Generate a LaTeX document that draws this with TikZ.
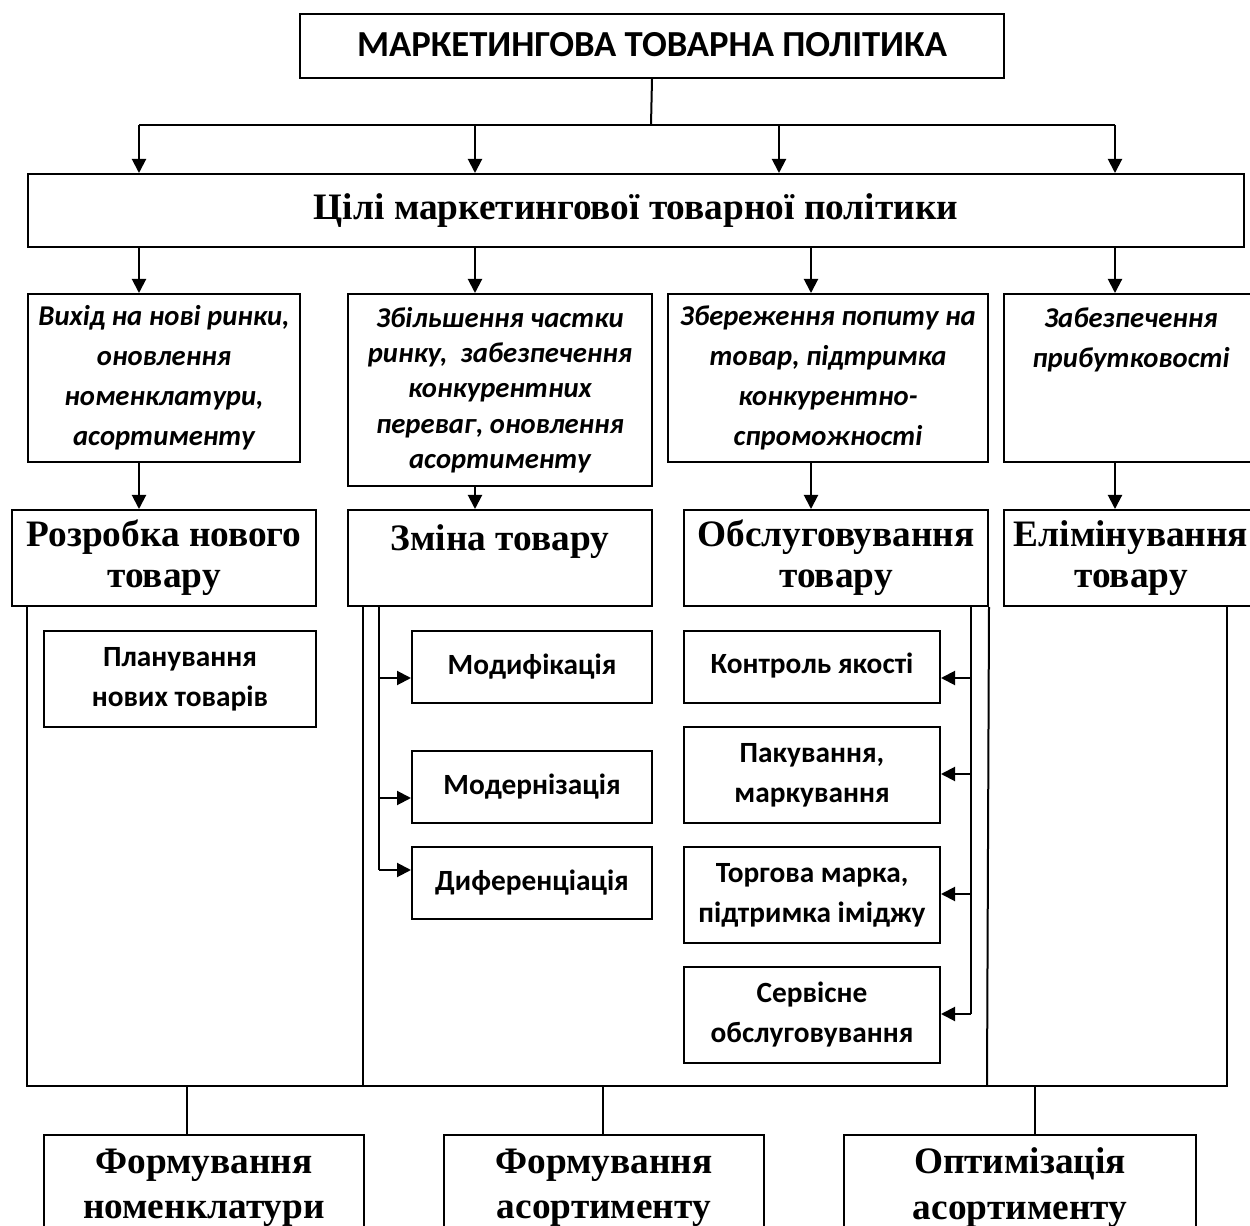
\documentclass[tikz,border=0pt]{standalone}
\usepackage{fontspec}
\setmainfont{Liberation Serif}
\newfontfamily\calibri{Carlito}
\usetikzlibrary{arrows.meta}
\newdimen\pxu \pxu=0.75pt

\tikzset{every picture/.style={line width=1.5pt}}
\tikzset{
  blk/.style={draw, line width=1.5pt, anchor=north west, inner sep=0pt, align=center},
  ttl/.style={font=\calibri\bfseries\fontsize{27.5}{32}\selectfont},
  head/.style={font=\bfseries\fontsize{28}{31}\selectfont},
  goal/.style={font=\calibri\bfseries\itshape\fontsize{21.5}{30}\selectfont},
  item/.style={font=\calibri\bfseries\fontsize{22}{30}\selectfont},
  arr/.style={-{Triangle[length=10.5pt,width=10.5pt]}},
}

\begin{document}
\begin{tikzpicture}[x=0.75pt,y=0.75pt,yscale=-1,xscale=1]
\useasboundingbox (0,0) rectangle (1250,1226);

% Text Node
\node[blk,ttl,minimum width=704\pxu,minimum height=64\pxu] (mtp) at (299,13) {\raisebox{4\pxu}{МАРКЕТИНГОВА ТОВАРНА ПОЛІТИКА}};
% Text Node
\node[blk,font=\bfseries\fontsize{28}{33}\selectfont,minimum width=1216\pxu,minimum height=73\pxu] (goals) at (27,173) {Цілі маркетингової товарної політики};

% Text Node
\node[blk,goal,minimum width=272\pxu,minimum height=168\pxu] (g1) at (27,293) {Вихід на нові ринки,\\оновлення\\номенклатури,\\асортименту};
% Text Node
\node[blk,goal,font=\calibri\bfseries\itshape\fontsize{21.5}{26.5}\selectfont,minimum width=304\pxu,minimum height=192\pxu] (g2) at (347,293) {Збільшення частки\\ринку,~ забезпечення\\конкурентних\\переваг, оновлення\\асортименту};
% Text Node
\node[blk,goal,minimum width=320\pxu,minimum height=168\pxu] (g3) at (667,293) {Збереження попиту на\\товар, підтримка\\конкурентно-\\спроможності};
% Text Node
\node[blk,goal,minimum width=254\pxu,minimum height=168\pxu] (g4) at (1003,293) {Забезпечення\\прибутковості\\~\\~};

% Text Node
\node[blk,head,minimum width=304\pxu,minimum height=96\pxu] (dev) at (11,509) {Розробка нового\\товару};
% Text Node
\node[blk,head,minimum width=304\pxu,minimum height=96\pxu] (chg) at (347,509) {Зміна товару\\~};
% Text Node
\node[blk,head,minimum width=304\pxu,minimum height=96\pxu] (srv) at (683,509) {Обслуговування\\товару};
% Text Node
\node[blk,head,minimum width=254\pxu,minimum height=96\pxu] (elim) at (1003,509) {Елімінування\\товару};

% Text Node
\node[blk,item,minimum width=272\pxu,minimum height=96\pxu] (plan) at (43,630) {Планування\\нових товарів};
% Text Node
\node[blk,item,minimum width=240\pxu,minimum height=72\pxu] (modif) at (411,630) {Модифікація};
% Text Node
\node[blk,item,minimum width=240\pxu,minimum height=72\pxu] (modern) at (411,750) {Модернізація};
% Text Node
\node[blk,item,minimum width=240\pxu,minimum height=72\pxu] (diff) at (411,846) {Диференціація};
% Text Node
\node[blk,item,minimum width=256\pxu,minimum height=72\pxu] (qual) at (683,630) {\raisebox{8\pxu}{Контроль якості}};
% Text Node
\node[blk,item,minimum width=256\pxu,minimum height=96\pxu] (pack) at (683,726) {Пакування,\\маркування};
% Text Node
\node[blk,item,minimum width=256\pxu,minimum height=96\pxu] (brand) at (683,846) {Торгова марка,\\підтримка іміджу};
% Text Node
\node[blk,item,minimum width=256\pxu,minimum height=96\pxu] (serv) at (683,966) {Сервісне\\обслуговування};

% Text Node
\node[blk,font=\bfseries\fontsize{28}{34}\selectfont,minimum width=320\pxu,minimum height=105\pxu] (nom) at (43,1134) {Формування\\номенклатури};
% Text Node
\node[blk,font=\bfseries\fontsize{28}{34}\selectfont,minimum width=320\pxu,minimum height=105\pxu] (asort) at (443,1134) {Формування\\асортименту};
% Text Node
\node[blk,font=\bfseries\fontsize{28}{34}\selectfont,minimum width=352\pxu,minimum height=105\pxu] (opt) at (843,1134) {Оптимізація\\асортименту};

% branch points
\coordinate (fork) at (651,125);
\coordinate (t1) at (139,125);
\coordinate (t2) at (475,125);
\coordinate (t3) at (779,125);
\coordinate (t4) at (1115,125);
\coordinate (k1) at (139,0);
\coordinate (k2) at (475,0);
\coordinate (k3) at (811,0);
\coordinate (k4) at (1115,0);

%Straight Lines
\draw (mtp.south) -- (fork);
\draw (t1) -- (t4);
\draw[arr] (t1) -- (t1 |- goals.north);
\draw[arr] (t2) -- (t2 |- goals.north);
\draw[arr] (t3) -- (t3 |- goals.north);
\draw[arr] (t4) -- (t4 |- goals.north);

%Straight Lines
\draw[arr] (goals.south -| k1) -- (g1.north -| k1);
\draw[arr] (goals.south -| k2) -- (g2.north -| k2);
\draw[arr] (goals.south -| k3) -- (g3.north -| k3);
\draw[arr] (goals.south -| k4) -- (g4.north -| k4);
\draw[arr] (g1.south -| k1) -- (dev.north -| k1);
\draw[arr] (g2.south -| k2) -- (chg.north -| k2);
\draw[arr] (g3.south -| k3) -- (srv.north -| k3);
\draw[arr] (g4.south -| k4) -- (elim.north -| k4);

% frame
\coordinate (fl) at (27,1086);
\coordinate (f2) at (363,1086);
\coordinate (f3) at (987,1086);
\coordinate (fr) at (1227,1086);
\draw (dev.south -| fl) -- (fl) -- (fr) -- (elim.south -| fr);
\draw (chg.south -| f2) -- (f2);
\draw (srv.south east) -- (f3);

%Straight Lines
\coordinate (m1) at (379,678);
\coordinate (m2) at (379,798);
\coordinate (m3) at (379,870);
\draw (chg.south -| m3) -- (m3);
\draw[arr] (m1) -- (m1 -| modif.west);
\draw[arr] (m2) -- (m2 -| modern.west);
\draw[arr] (m3) -- (m3 -| diff.west);

%Straight Lines
\coordinate (s1) at (971,678);
\coordinate (s2) at (971,774);
\coordinate (s3) at (971,894);
\coordinate (s4) at (971,1014);
\draw (srv.south -| s4) -- (s4);
\draw[arr] (s1) -- (s1 -| qual.east);
\draw[arr] (s2) -- (s2 -| pack.east);
\draw[arr] (s3) -- (s3 -| brand.east);
\draw[arr] (s4) -- (s4 -| serv.east);

%Straight Lines
\coordinate (d1) at (187,1086);
\coordinate (d2) at (603,1086);
\coordinate (d3) at (1035,1086);
\draw (d1) -- (d1 |- nom.north);
\draw (d2) -- (d2 |- asort.north);
\draw (d3) -- (d3 |- opt.north);

\end{tikzpicture}
\end{document}
